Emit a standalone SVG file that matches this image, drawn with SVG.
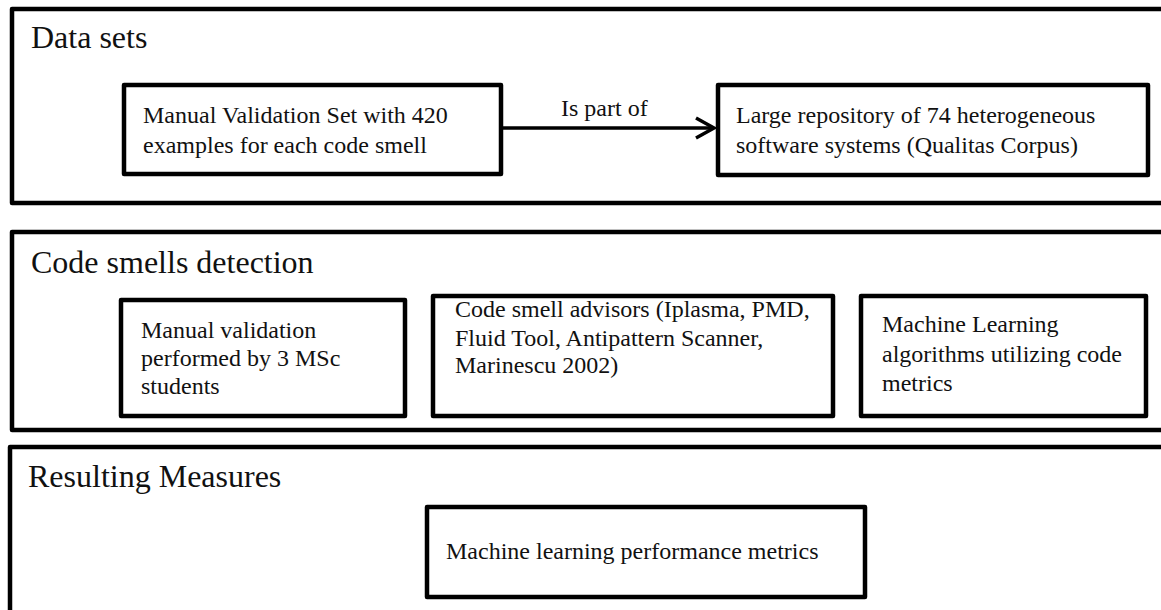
<svg xmlns="http://www.w3.org/2000/svg" width="1161" height="610" viewBox="0 0 1161 610">
  <style>
    .panel { fill: none; stroke: #000; stroke-width: 4.5; stroke-linejoin: round; }
    .box { fill: #fff; stroke: #000; stroke-width: 4.5; stroke-linejoin: round; }
    .title { font-family: "Liberation Serif", "Times New Roman", Times, serif; font-size: 32px; fill: #111; }
    .label { font-family: "Liberation Serif", "Times New Roman", Times, serif; font-size: 24px; fill: #111; }
    .edge { fill: none; stroke: #000; stroke-width: 3.5; }
  </style>
  <defs>
    <marker id="open-arrow" markerUnits="userSpaceOnUse" markerWidth="30" markerHeight="30" refX="20" refY="12" orient="auto">
      <path d="M2,2 L20,12 L2,22" fill="none" stroke="#000" stroke-width="3.5" stroke-linejoin="miter"/>
    </marker>
  </defs>
  <rect width="1161" height="610" fill="#fff"/>

  <!-- Data sets panel -->
  <g id="panel-datasets">
    <rect class="panel" x="12" y="9" width="1170" height="194"/>
    <text class="title" x="31" y="48">Data sets</text>
  </g>
  <g id="node-manual-set">
    <rect class="box" x="124" y="85" width="377" height="89"/>
    <text class="label" x="143" y="123">Manual Validation Set with 420</text>
    <text class="label" x="143" y="153">examples for each code smell</text>
  </g>
  <g id="node-repository">
    <rect class="box" x="718" y="85" width="430" height="90"/>
    <text class="label" x="736" y="123">Large repository of 74 heterogeneous</text>
    <text class="label" x="736" y="153">software systems (Qualitas Corpus)</text>
  </g>

  <!-- Code smells detection panel -->
  <g id="panel-detection">
    <rect class="panel" x="12" y="232" width="1170" height="198"/>
    <text class="title" x="31" y="273">Code smells detection</text>
  </g>
  <g id="node-manual-validation">
    <rect class="box" x="121" y="300" width="284" height="116"/>
    <text class="label" x="141" y="338">Manual validation</text>
    <text class="label" x="141" y="366">performed by 3 MSc</text>
    <text class="label" x="141" y="394">students</text>
  </g>
  <g id="node-advisors">
    <rect class="box" x="433" y="296" width="400" height="120"/>
    <text class="label" x="455" y="317">Code smell advisors (Iplasma, PMD,</text>
    <text class="label" x="455" y="346">Fluid Tool, Antipattern Scanner,</text>
    <text class="label" x="455" y="373">Marinescu 2002)</text>
  </g>
  <g id="node-ml-algorithms">
    <rect class="box" x="861" y="296" width="285" height="120"/>
    <text class="label" x="882" y="332">Machine Learning</text>
    <text class="label" x="882" y="362">algorithms utilizing code</text>
    <text class="label" x="882" y="391">metrics</text>
  </g>

  <!-- Resulting Measures panel -->
  <g id="panel-measures">
    <rect class="panel" x="10" y="447" width="1172" height="180"/>
    <text class="title" x="28" y="487">Resulting Measures</text>
  </g>
  <g id="node-performance">
    <rect class="box" x="427" y="507" width="438" height="90"/>
    <text class="label" x="446" y="559">Machine learning performance metrics</text>
  </g>

  <!-- Connectors -->
  <g id="connectors">
    <line class="edge" x1="501" y1="128" x2="714" y2="128" marker-end="url(#open-arrow)"/>
    <text class="label" x="561" y="116">Is part of</text>
  </g>
</svg>
